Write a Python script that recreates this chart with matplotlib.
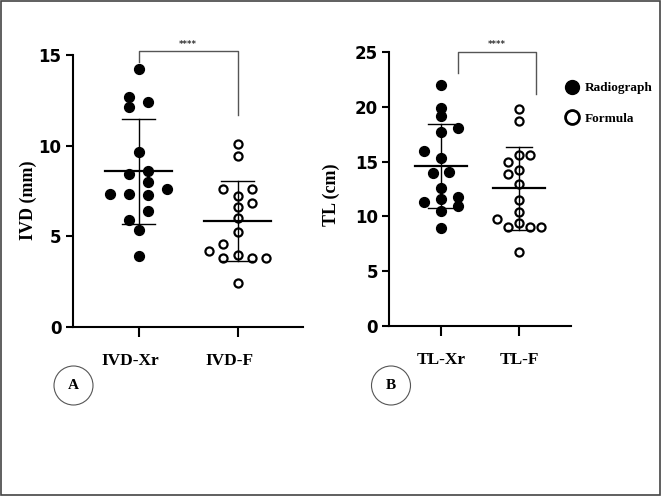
import numpy as np
import matplotlib
matplotlib.use("Agg")
import matplotlib.pyplot as plt
import matplotlib.transforms as mtransforms
from matplotlib.patches import Ellipse, Rectangle
from matplotlib.lines import Line2D

# Valeurs (IVD en mm, TL en cm)
ivd_xr = [14.24, 12.67, 12.40, 12.15, 9.65, 8.44, 8.58, 8.01, 7.33, 7.33,
          7.27, 7.60, 6.39, 5.91, 5.34, 3.92]
ivd_f = [10.08, 9.45, 7.62, 7.62, 7.24, 6.83, 6.60, 6.02, 5.21, 4.55,
         4.20, 3.78, 3.96, 3.78, 3.78, 2.43]
tl_xr = [22.05, 19.95, 19.19, 18.12, 17.69, 15.98, 15.37, 14.00, 14.09, 12.57,
         11.32, 11.62, 11.80, 10.98, 10.49, 8.94]
tl_f = [19.80, 18.76, 14.95, 15.65, 15.65, 13.91, 14.27, 12.94, 11.50, 10.40,
        9.76, 9.42, 9.06, 9.06, 9.06, 6.77]

labels_a = ["IVD-Xr", "IVD-F"]
labels_b = ["TL-Xr", "TL-F"]

# Disposition des points (colonnes de la dispersion)
ivd_xr_slots = [0, -1, 1, -1, 0, -1, 1, 1, -3, -1, 1, 3, 1, -1, 0, 0]
ivd_f_slots = [0, 0, -1, 1, 0, 1, 0, 0, 0, -1, -2, -1, 0, 1, 2, 0]
tl_xr_slots = [0, 0, 0, 2, 0, -2, 0, -1, 1, 0, -2, 0, 2, 2, 0, 0]
tl_f_slots = [0, 0, -1, 0, 1, -1, 0, 0, 0, 0, -2, 0, -1, 1, 2, 0]

serif = "Liberation Serif"
sans = "DejaVu Sans"

fig = plt.figure(figsize=(6.61, 4.96), dpi=100)
ax_a = fig.add_axes([0.110, 0.341, 0.349, 0.548])
ax_b = fig.add_axes([0.589, 0.3433, 0.2744, 0.551])


def draw_group(ax, pos, values, slots, step, filled):
    x = pos + np.array(slots) * step
    if filled:
        ax.scatter(x, values, s=50, color="black", zorder=2, clip_on=False)
    else:
        ax.scatter(x, values, s=34, facecolor="white", edgecolor="black",
                   linewidths=1.6, zorder=2, clip_on=False)
    m = np.mean(values)
    sd = np.std(values, ddof=1)
    ax.plot([pos - 0.335, pos + 0.335], [m, m], color="black", lw=1.6, zorder=3)
    ax.plot([pos, pos], [m - sd, m + sd], color="black", lw=1.0, zorder=3)
    for yy in (m - sd, m + sd):
        ax.plot([pos - 0.167, pos + 0.167], [yy, yy], color="black", lw=1.0, zorder=3)


def style_axis(ax, ymax, labels, ylabel):
    ax.set_xlim(-0.665, 1.665)
    ax.set_ylim(0, ymax)
    ax.spines["top"].set_visible(False)
    ax.spines["right"].set_visible(False)
    ax.spines["left"].set_linewidth(1.5)
    ax.spines["bottom"].set_linewidth(1.5)
    ax.set_xticks([0, 1])
    ax.set_xticklabels(labels, fontfamily=serif, fontweight="bold", fontsize=12.5)
    ax.tick_params(axis="x", length=7, width=1.5, pad=12)
    ax.tick_params(axis="y", length=5, width=1.5, pad=3, labelsize=12)
    for t in ax.get_yticklabels():
        t.set_fontfamily(sans)
        t.set_fontweight("bold")
    ax.set_ylabel(ylabel, fontfamily=serif, fontweight="bold", fontsize=13)


# Panneau A
draw_group(ax_a, 0, ivd_xr, ivd_xr_slots, 0.096, True)
draw_group(ax_a, 1, ivd_f, ivd_f_slots, 0.143, False)
style_axis(ax_a, 15, labels_a, "IVD (mm)")
ax_a.set_yticks([0, 5, 10, 15])
ax_a.yaxis.set_label_coords(-0.155, 0.466)
shift = mtransforms.ScaledTranslation(-8 / 100, 0, fig.dpi_scale_trans)
for t in ax_a.get_xticklabels():
    t.set_transform(t.get_transform() + shift)

# crochet de significativité
ax_a.plot([0, 0, 1, 1], [14.64, 15.24, 15.24, 11.7], color="#555555", lw=1.0, clip_on=False)
ax_a.text(0.5, 15.35, "****", ha="center", va="bottom", fontsize=6, fontweight="bold",
          color="#333333")

# Panneau B
draw_group(ax_b, 0, tl_xr, tl_xr_slots, 0.107, True)
draw_group(ax_b, 1, tl_f, tl_f_slots, 0.141, False)
style_axis(ax_b, 25, labels_b, "TL (cm)")
ax_b.set_yticks([0, 5, 10, 15, 20, 25])
ax_b.yaxis.set_label_coords(-0.27, 0.48)

ax_b.plot([0.214, 0.214, 1.214, 1.214], [23.14, 25.0, 25.0, 21.2], color="#555555", lw=1.0,
          clip_on=False)
ax_b.text(0.714, 25.3, "****", ha="center", va="bottom", fontsize=6, fontweight="bold",
          color="#333333")

# Légende
handles = [
    Line2D([], [], marker="o", ls="none", ms=10, color="black", label="Radiograph"),
    Line2D([], [], marker="o", ls="none", ms=10, mfc="white", mec="black", mew=2,
           label="Formula"),
]
fig.legend(handles=handles, loc="upper left", bbox_to_anchor=(0.845, 0.848),
           frameon=False, borderpad=0, handlelength=1.0, handletextpad=0.45,
           labelspacing=1.4, prop={"family": serif, "weight": "bold", "size": 9.5})

# Cercles A / B
for cx, letter in [(73.5, "A"), (391, "B")]:
    fx, fy = cx / 661, 1 - 385.5 / 496
    fig.add_artist(Ellipse((fx, fy), 39 / 661, 39 / 496, transform=fig.transFigure,
                           fill=False, ec="#555555", lw=0.8))
    fig.text(fx, fy, letter, ha="center", va="center", fontfamily=serif,
             fontweight="bold", fontsize=11)

# Cadre de la figure
fig.add_artist(Rectangle((0.002, 0.002), 0.996, 0.995, transform=fig.transFigure,
                         fill=False, ec="#444444", lw=1.2))

fig.savefig("out.png", dpi=100)
